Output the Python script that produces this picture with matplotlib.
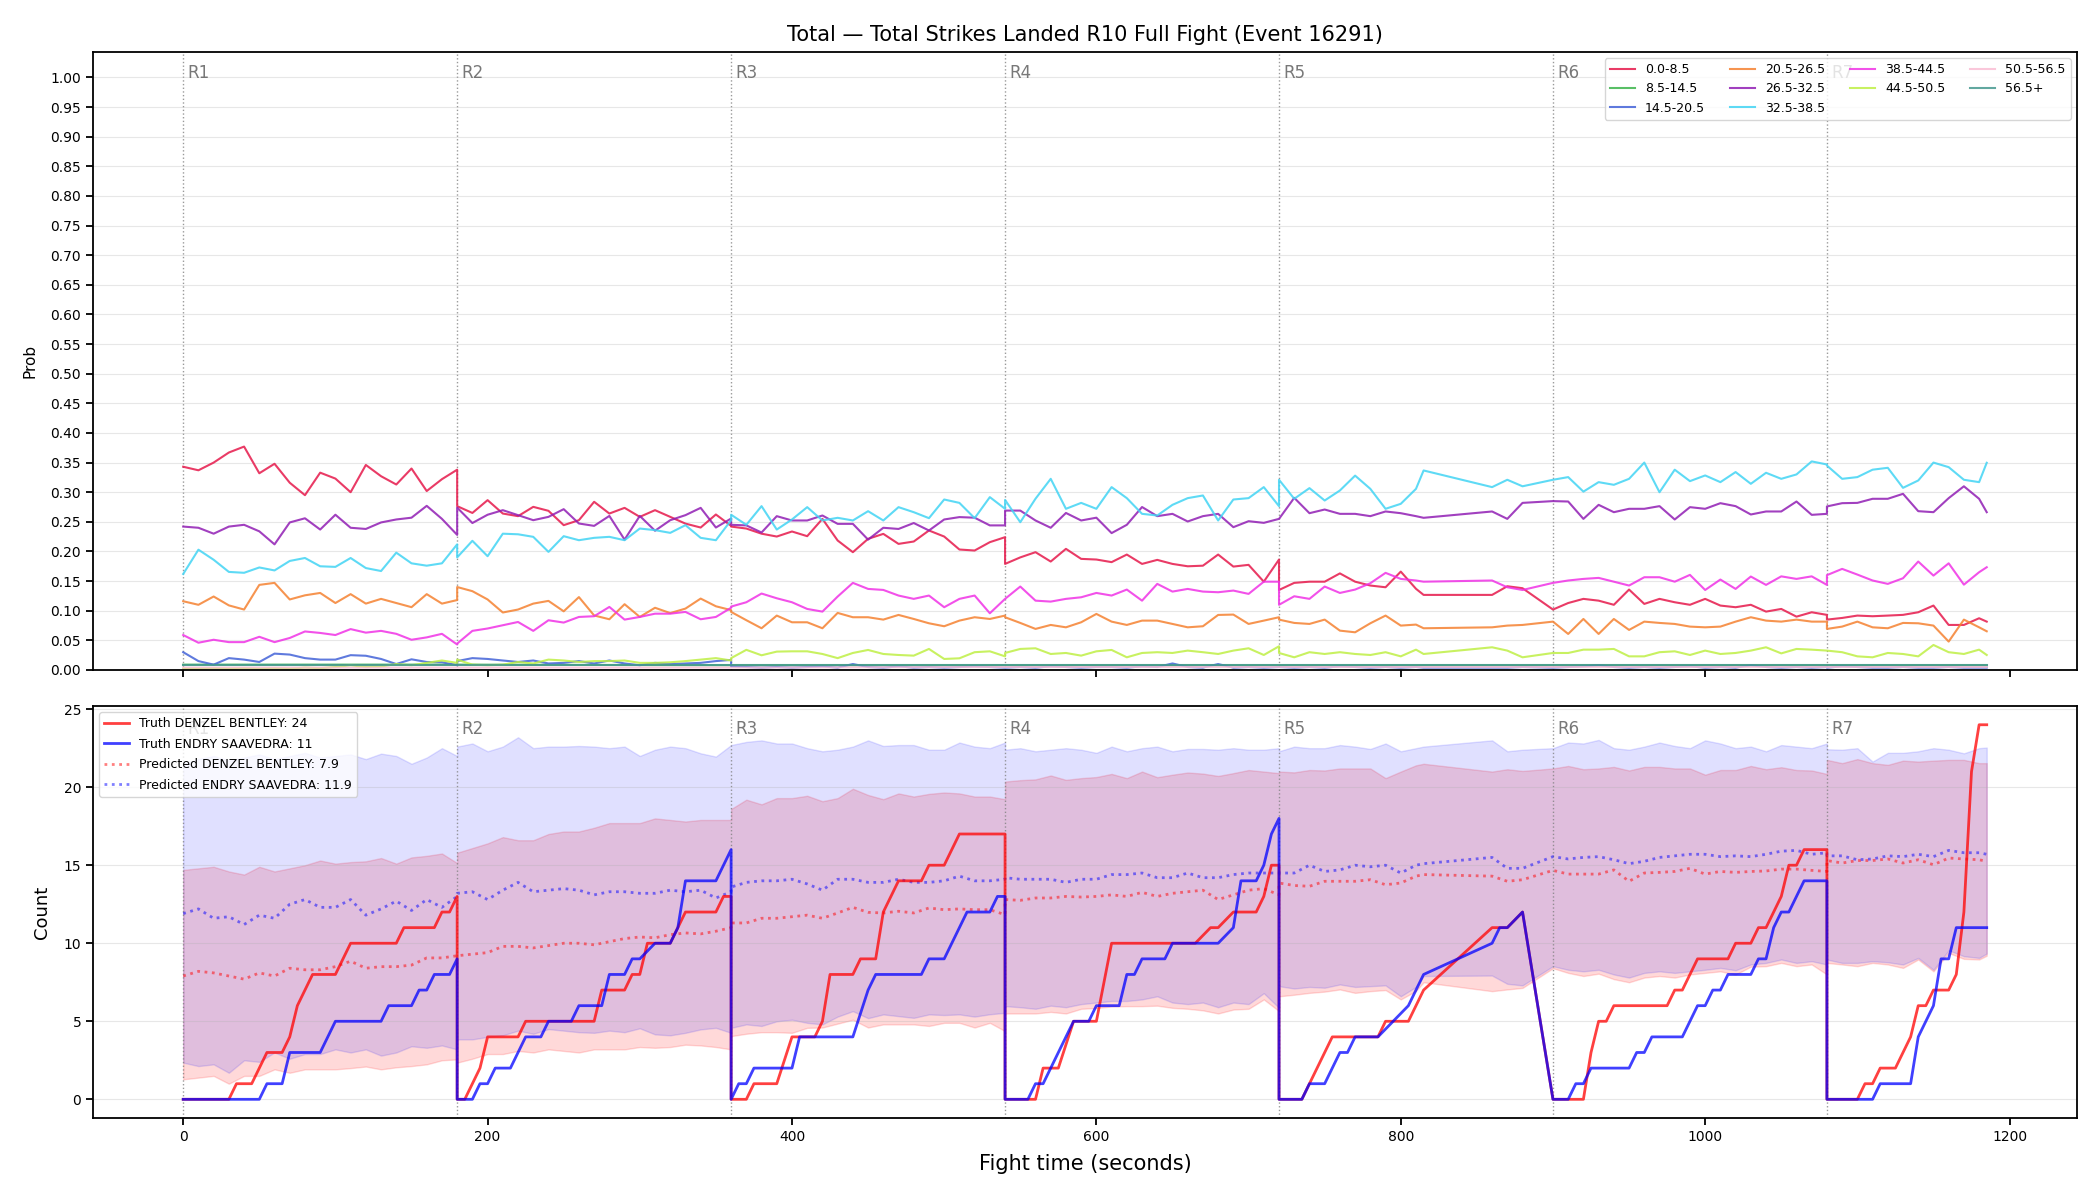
import numpy as np
import matplotlib
matplotlib.use("Agg")
import matplotlib.pyplot as plt
from matplotlib.ticker import FormatStrFormatter

# ---- sample times (seconds), one list per round; R5 feed has a gap ----
round_times = [
    list(range(0, 181, 10)),
    list(range(180, 361, 10)),
    list(range(360, 541, 10)),
    list(range(540, 721, 10)),
    list(range(720, 811, 10)) + [815, 860, 870, 880],
    list(range(900, 1081, 10)),
    list(range(1080, 1181, 10)) + [1185],
]
round_starts = [0, 180, 360, 540, 720, 900, 1080]

# ---- bin probabilities (top panel) ----
bin_labels = ["0.0-8.5", "8.5-14.5", "14.5-20.5", "20.5-26.5", "26.5-32.5",
              "32.5-38.5", "38.5-44.5", "44.5-50.5", "50.5-56.5", "56.5+"]
bin_colors = ["#e6194b", "#3cb44b", "#4363d8", "#f58231", "#911eb4",
              "#42d4f4", "#f032e6", "#bfef45", "#fabed4", "#469990"]

p_0_8 = [
    [.343, .337, .350, .367, .377, .332, .348, .316, .295, .333, .323, .300, .346, .327, .313, .340, .302, .322, .338],
    [.2765, .265, .2866, .264, .2596, .2753, .2686, .2444, .2528, .2838, .264, .2736, .2584, .2697, .2584, .247, .2404, .2624, .2432],
    [.242, .2387, .230, .2252, .2337, .2258, .255, .2185, .1988, .2213, .2297, .2128, .2168, .2354, .2252, .2033, .2016, .2157, .2241],
    [.179, .190, .1988, .183, .2044, .1875, .1864, .182, .1948, .179, .1858, .179, .175, .176, .1948, .1745, .1774, .149, .1864],
    [.135, .147, .149, .149, .163, .149, .1425, .1396, .166, .137, .1267, .1267, .1413, .138],
    [.102, .113, .120, .117, .110, .1357, .1115, .120, .1143, .110, .120, .1087, .1059, .110, .0985, .103, .090, .0974, .093],
    [.085, .0878, .0918, .0907, .0918, .093, .0974, .1087, .076, .076, .0873, .0816],
]
p_14_20 = [
    [.030, .015, .009, .020, .0175, .0135, .0276, .026, .020, .0175, .0175, .025, .024, .0186, .010, .018, .0135, .013, .008],
    [.015, .020, .0186, .016, .0135, .016, .011, .012, .015, .011, .016, .011, .008, .012, .010, .011, .012, .015, .017],
    [.006, .005, .004, .005, .004, .005, .006, .004, .010, .005, .004, .006, .004, .005, .004, .005, .006, .005, .004],
    [.004, .005, .004, .006, .005, .004, .005, .005, .004, .006, .005, .011, .005, .004, .010, .004, .005, .004, .005],
    [.005, .004, .005, .004, .006, .005, .004, .005, .004, .005, .004, .004, .004, .005],
    [.004, .005, .006, .008, .005, .004, .005, .004, .005, .006, .004, .005, .004, .008, .005, .004, .005, .004, .005],
    [.004, .006, .005, .004, .004, .005, .004, .004, .005, .004, .004, .004],
]
p_20_26 = [
    [.116, .110, .124, .109, .102, .1436, .147, .119, .126, .130, .113, .128, .112, .120, .113, .106, .128, .112, .118],
    [.140, .133, .119, .097, .102, .112, .1166, .099, .123, .092, .0856, .111, .0895, .105, .096, .1036, .1205, .1075, .101],
    [.098, .084, .0704, .0918, .0805, .0805, .0704, .0963, .089, .089, .085, .0929, .0861, .0788, .0738, .0833, .089, .0861, .0918],
    [.089, .0794, .0693, .076, .072, .0805, .0946, .0816, .076, .0833, .0833, .0777, .072, .0738, .0929, .0935, .0777, .0833, .089],
    [.085, .0794, .0777, .085, .0664, .0636, .0788, .0918, .0749, .0766, .0704, .072, .0749, .076],
    [.0816, .0608, .0861, .0608, .0861, .0676, .0816, .0794, .0777, .0732, .072, .0732, .0816, .089, .0833, .0816, .085, .0816, .0816],
    [.0693, .0732, .0816, .072, .0704, .0794, .0788, .0749, .0479, .085, .072, .0653],
]
p_26_32 = [
    [.242, .240, .230, .242, .245, .234, .212, .249, .256, .237, .262, .240, .238, .249, .254, .257, .277, .255, .228],
    [.274, .248, .262, .2697, .2613, .2528, .2584, .2714, .2472, .2432, .260, .220, .260, .235, .2528, .2613, .2736, .2404, .2556],
    [.245, .244, .232, .2596, .2523, .2523, .2607, .2466, .2466, .220, .240, .238, .248, .2354, .254, .258, .257, .244, .244],
    [.269, .269, .2523, .240, .265, .2523, .257, .231, .245, .275, .2596, .2635, .2506, .2596, .2635, .241, .2511, .2483, .255],
    [.255, .2905, .2646, .2708, .2635, .2635, .2596, .2675, .2646, .2596, .2568, .2675, .255, .282],
    [.285, .2843, .255, .2787, .2663, .272, .272, .2765, .254, .2748, .272, .2815, .2765, .2624, .2675, .2675, .2843, .2618, .2635],
    [.276, .2815, .282, .2889, .2889, .2973, .268, .2663, .290, .310, .2889, .2663],
]
p_32_38 = [
    [.162, .203, .186, .1655, .164, .173, .168, .184, .189, .175, .174, .189, .172, .167, .198, .180, .176, .180, .212],
    [.190, .218, .192, .230, .229, .2247, .1993, .2258, .219, .223, .2247, .219, .2387, .236, .2314, .2444, .223, .219, .2528],
    [.262, .245, .2765, .237, .254, .2748, .2523, .2568, .2523, .268, .2523, .2748, .2663, .2562, .2877, .282, .2562, .2917, .272],
    [.287, .2494, .289, .3226, .272, .282, .272, .3086, .290, .2635, .2607, .2787, .290, .2945, .2523, .2877, .290, .3086, .2765],
    [.321, .2889, .3069, .286, .3029, .328, .3057, .272, .2804, .3057, .3367, .3086, .321, .310],
    [.321, .3255, .301, .317, .3125, .3226, .350, .300, .338, .3187, .3283, .317, .334, .3142, .3328, .3226, .330, .352, .3468],
    [.345, .3226, .3255, .338, .3412, .3074, .3198, .350, .3423, .321, .317, .3497],
]
p_38_44 = [
    [.059, .046, .051, .047, .047, .056, .047, .054, .065, .0625, .059, .069, .063, .066, .061, .051, .055, .061, .043],
    [.0445, .066, .070, .0755, .081, .066, .0839, .080, .0895, .0907, .1064, .085, .0895, .095, .095, .098, .0856, .0895, .105],
    [.107, .1143, .129, .121, .1143, .103, .0985, .1239, .147, .1368, .1351, .1256, .120, .1256, .1059, .120, .1256, .0957, .120],
    [.120, .1408, .117, .1154, .120, .1227, .130, .1256, .1357, .117, .1453, .1323, .1368, .1323, .1312, .134, .1284, .149, .149],
    [.110, .1244, .120, .1408, .130, .1357, .1464, .1639, .1537, .151, .149, .151, .1396, .135],
    [.147, .151, .1537, .1554, .149, .1425, .1565, .1565, .149, .1605, .135, .1526, .1368, .1577, .1436, .158, .1537, .158, .1436],
    [.160, .1706, .161, .151, .1453, .1548, .183, .1593, .180, .144, .165, .1734],
]
p_44_50 = [
    [.002, .002, .003, .002, .003, .002, .003, .002, .004, .003, .005, .008, .005, .006, .010, .008, .012, .016, .012],
    [.0175, .009, .008, .009, .0135, .011, .0175, .016, .0135, .015, .015, .016, .012, .012, .013, .015, .0175, .020, .016],
    [.020, .034, .0248, .031, .0315, .0315, .027, .020, .0287, .0338, .027, .0253, .0242, .0355, .0186, .0197, .030, .0315, .023],
    [.0287, .0355, .0366, .027, .0287, .0242, .0315, .0338, .0214, .0287, .030, .0287, .0327, .030, .027, .0327, .0366, .0253, .040],
    [.0287, .0214, .030, .027, .030, .027, .0253, .030, .023, .0343, .027, .0383, .0327, .0214],
    [.0287, .0287, .0343, .0343, .0355, .023, .023, .030, .0315, .0253, .0327, .027, .0287, .0327, .0383, .028, .0355, .0343, .0327],
    [.0327, .030, .023, .0214, .0287, .027, .023, .0422, .030, .027, .0343, .0253],
]
# near-zero bins, sampled sparsely
t_sparse = [0, 180, 360, 540, 720, 880, 900, 1080, 1185]
p_8_14 = [.009, .009, .008, .008, .008, .008, .008, .008, .008]
p_50_56 = [.004, .004, .004, .005, .005, .005, .005, .005, .005]
p_56_up = [.008, .008, .008, .008, .008, .008, .008, .008, .008]

# ---- count panel: truth (breakpoints) ----
truth_a_t = [0, 30, 35, 45, 55, 65, 70, 75, 85, 100, 110, 140, 145, 165, 170, 175, 180,
             180, 185, 195, 200, 220, 225, 270, 275, 290, 295, 300, 305, 320, 330, 350, 355, 360,
             360, 370, 375, 390, 400, 415, 420, 425, 440, 445, 455, 460, 470, 485, 490, 500, 510, 540,
             540, 560, 565, 575, 585, 600, 610, 665, 675, 680, 690, 705, 710, 715, 720,
             720, 735, 755, 785, 790, 805, 815, 860, 870, 880,
             900, 920, 925, 930, 935, 940, 975, 980, 985, 995, 1015, 1020, 1030, 1035, 1040, 1050, 1055, 1060, 1065, 1080,
             1080, 1100, 1105, 1110, 1115, 1125, 1135, 1140, 1145, 1150, 1160, 1165, 1170, 1175, 1180, 1185]
truth_a_v = [0, 0, 1, 1, 3, 3, 4, 6, 8, 8, 10, 10, 11, 11, 12, 12, 13,
             0, 0, 2, 4, 4, 5, 5, 7, 7, 8, 8, 10, 10, 12, 12, 13, 13,
             0, 0, 1, 1, 4, 4, 5, 8, 8, 9, 9, 12, 14, 14, 15, 15, 17, 17,
             0, 0, 2, 2, 5, 5, 10, 10, 11, 11, 12, 12, 13, 15, 15,
             0, 0, 4, 4, 5, 5, 7, 11, 11, 12,
             0, 0, 3, 5, 5, 6, 6, 7, 7, 9, 9, 10, 10, 11, 11, 13, 15, 15, 16, 16,
             0, 0, 1, 1, 2, 2, 4, 6, 6, 7, 7, 8, 12, 21, 24, 24]
truth_b_t = [0, 50, 55, 65, 70, 90, 100, 130, 135, 150, 155, 160, 165, 175, 180,
             180, 190, 195, 200, 205, 215, 225, 235, 240, 255, 260, 275, 280, 290, 295, 300, 310, 320, 325, 330, 350, 360,
             360, 365, 370, 375, 400, 405, 440, 450, 455, 485, 490, 500, 510, 515, 530, 535, 540,
             540, 555, 560, 565, 580, 585, 595, 600, 615, 620, 625, 630, 645, 650, 680, 690, 695, 705, 710, 715, 720,
             720, 735, 740, 750, 755, 760, 765, 770, 785, 795, 805, 815, 860, 865, 870, 880,
             900, 910, 915, 920, 925, 950, 955, 960, 965, 985, 995, 1000, 1005, 1010, 1015, 1030, 1035, 1040, 1045, 1050, 1055, 1065, 1080,
             1080, 1110, 1115, 1135, 1140, 1150, 1155, 1160, 1165, 1185]
truth_b_v = [0, 0, 1, 1, 3, 3, 5, 5, 6, 6, 7, 7, 8, 8, 9,
             0, 0, 1, 1, 2, 2, 4, 4, 5, 5, 6, 6, 8, 8, 9, 9, 10, 10, 11, 14, 14, 16,
             0, 1, 1, 2, 2, 4, 4, 7, 8, 8, 9, 9, 11, 12, 12, 13, 13,
             0, 0, 1, 1, 4, 5, 5, 6, 6, 8, 8, 9, 9, 10, 10, 11, 14, 14, 15, 17, 18,
             0, 0, 1, 1, 2, 3, 3, 4, 4, 5, 6, 8, 10, 11, 11, 12,
             0, 0, 1, 1, 2, 2, 3, 3, 4, 4, 6, 6, 7, 7, 8, 8, 9, 9, 11, 12, 12, 14, 14,
             0, 0, 1, 1, 4, 6, 9, 9, 11, 11]

# ---- count panel: predicted mean and band (per round, on round_times) ----
pred_a = [
    [7.9, 8.2, 8.1, 7.9, 7.7, 8.1, 7.9, 8.4, 8.3, 8.3, 8.5, 8.85, 8.4, 8.5, 8.5, 8.6, 9.06, 9.06, 9.2],
    [9.2, 9.3, 9.4, 9.8, 9.8, 9.7, 9.85, 10.0, 10.0, 9.9, 10.1, 10.3, 10.4, 10.35, 10.55, 10.66, 10.6, 10.77, 11.0],
    [11.3, 11.3, 11.6, 11.6, 11.7, 11.8, 11.6, 11.94, 12.3, 11.98, 11.94, 12.05, 11.94, 12.26, 12.15, 12.2, 12.15, 12.15, 11.83],
    [12.8, 12.75, 12.9, 12.9, 13.0, 12.96, 13.0, 13.1, 13.0, 13.26, 13.0, 13.2, 13.3, 13.4, 12.8, 13.1, 13.4, 13.5, 13.1],
    [13.86, 13.7, 13.65, 13.97, 13.97, 13.97, 14.07, 13.75, 13.86, 14.3, 14.4, 14.3, 13.97, 14.07],
    [14.67, 14.43, 14.43, 14.43, 14.7, 13.97, 14.5, 14.54, 14.6, 14.8, 14.43, 14.6, 14.54, 14.6, 14.63, 14.75, 14.75, 14.67, 14.6],
    [15.3, 15.14, 15.3, 15.3, 15.4, 15.14, 15.35, 15.03, 15.46, 15.4, 15.35, 15.25],
]
pred_b = [
    [11.9, 12.2, 11.6, 11.7, 11.2, 11.8, 11.6, 12.5, 12.8, 12.3, 12.3, 12.8, 11.8, 12.2, 12.7, 12.1, 12.8, 12.3, 13.0],
    [13.2, 13.3, 12.8, 13.4, 13.9, 13.3, 13.4, 13.5, 13.4, 13.1, 13.3, 13.3, 13.2, 13.2, 13.4, 13.3, 13.4, 12.9, 13.3],
    [13.6, 13.9, 14.0, 14.0, 14.1, 13.8, 13.4, 14.1, 14.1, 13.9, 13.9, 14.1, 13.9, 13.9, 14.0, 14.3, 14.0, 14.0, 14.1],
    [14.2, 14.1, 14.1, 14.1, 13.9, 14.1, 14.1, 14.4, 14.4, 14.5, 14.2, 14.2, 14.5, 14.2, 14.2, 14.4, 14.5, 14.5, 14.5],
    [14.5, 14.5, 15.0, 14.6, 14.7, 15.0, 14.9, 15.0, 14.5, 15.0, 15.1, 15.5, 14.8, 14.8],
    [15.55, 15.4, 15.5, 15.55, 15.35, 15.1, 15.25, 15.5, 15.6, 15.7, 15.7, 15.55, 15.6, 15.55, 15.7, 15.9, 15.95, 15.7, 15.8],
    [15.6, 15.6, 15.35, 15.4, 15.6, 15.55, 15.7, 15.55, 15.95, 15.8, 15.8, 15.7],
]
hi_a = [
    [14.7, 14.8, 14.9, 14.6, 14.4, 14.9, 14.6, 14.8, 15.0, 15.3, 15.1, 15.2, 15.25, 15.46, 15.1, 15.5, 15.6, 15.75, 15.14],
    [15.8, 16.1, 16.4, 16.8, 16.6, 16.6, 17.0, 17.16, 17.16, 17.4, 17.7, 17.7, 17.7, 18.0, 17.9, 17.8, 17.9, 17.9, 17.9],
    [18.6, 19.2, 18.9, 19.3, 19.3, 19.45, 19.1, 19.3, 19.9, 19.5, 19.23, 19.6, 19.4, 19.57, 19.66, 19.6, 19.4, 19.4, 19.23],
    [20.36, 20.45, 20.5, 20.75, 20.47, 20.58, 20.65, 20.85, 20.58, 21.0, 20.64, 20.8, 20.94, 20.87, 20.72, 20.9, 21.1, 21.0, 20.9],
    [21.0, 20.95, 21.1, 21.07, 21.2, 21.2, 21.2, 20.58, 21.0, 21.4, 21.5, 21.0, 21.15, 21.04],
    [21.2, 21.36, 21.15, 21.2, 21.3, 21.07, 21.3, 21.3, 21.2, 21.2, 20.8, 21.1, 21.1, 21.36, 21.15, 21.28, 21.1, 21.07, 20.85],
    [21.75, 21.54, 21.8, 21.54, 21.43, 21.7, 21.64, 21.7, 21.75, 21.75, 21.54, 21.54],
]
lo_a = [
    [1.28, 1.39, 1.5, 1.0, 1.5, 1.5, 1.92, 1.7, 1.92, 1.92, 1.92, 2.0, 2.1, 1.92, 2.05, 2.13, 2.24, 2.5, 2.56],
    [2.35, 2.6, 2.9, 2.9, 3.1, 3.0, 3.2, 3.1, 3.0, 3.2, 3.2, 3.2, 3.35, 3.3, 3.35, 3.5, 3.45, 3.35, 3.2],
    [4.05, 4.2, 4.3, 4.3, 4.26, 4.58, 4.6, 4.85, 5.1, 4.6, 4.8, 4.8, 4.8, 4.7, 4.9, 4.9, 4.6, 4.9, 4.37],
    [5.5, 5.5, 5.5, 5.6, 5.5, 5.8, 5.85, 5.95, 5.97, 5.97, 6.0, 5.86, 5.8, 5.7, 5.5, 5.75, 5.8, 6.4, 5.65],
    [6.6, 6.7, 6.82, 6.9, 7.04, 6.82, 6.93, 7.0, 6.4, 6.95, 7.5, 6.93, 7.04, 7.14],
    [8.4, 8.1, 7.9, 8.05, 7.7, 7.5, 7.8, 7.9, 7.8, 8.0, 8.1, 8.2, 8.0, 8.5, 8.53, 8.74, 8.53, 8.64, 8.0],
    [8.74, 8.64, 8.53, 8.74, 8.64, 8.42, 8.96, 8.2, 9.38, 9.0, 8.96, 9.2],
]
hi_b = [
    [21.5, 21.8, 22.0, 21.7, 21.9, 22.1, 21.8, 22.0, 22.2, 21.9, 22.0, 22.1, 21.8, 22.15, 22.0, 21.5, 21.9, 22.5, 22.0],
    [22.6, 22.8, 22.3, 22.6, 23.2, 22.5, 22.6, 22.6, 22.64, 22.6, 22.5, 22.6, 22.0, 22.4, 22.6, 22.5, 22.17, 21.96, 22.7],
    [22.7, 22.9, 23.0, 22.8, 22.8, 22.5, 22.3, 22.4, 22.6, 23.0, 22.64, 22.7, 22.7, 22.4, 22.4, 22.86, 22.6, 22.5, 22.86],
    [22.4, 22.5, 22.3, 22.4, 22.5, 22.4, 22.2, 22.6, 22.3, 22.5, 22.6, 22.3, 22.45, 22.45, 22.4, 22.5, 22.4, 22.4, 22.5],
    [22.3, 22.6, 22.5, 22.5, 22.7, 22.6, 22.45, 22.8, 22.3, 22.5, 22.6, 23.0, 22.3, 22.4],
    [22.5, 22.86, 22.8, 23.03, 22.5, 22.4, 22.6, 22.86, 22.64, 22.5, 23.0, 22.8, 22.5, 22.6, 22.3, 22.7, 22.6, 22.5, 22.8],
    [22.43, 22.4, 22.5, 21.64, 22.2, 22.2, 22.3, 22.5, 22.4, 22.17, 22.5, 22.54],
]
lo_b = [
    [2.35, 2.13, 2.24, 1.7, 2.5, 2.4, 3.0, 2.6, 2.9, 2.9, 3.2, 3.0, 3.2, 2.8, 3.0, 3.4, 3.3, 3.45, 3.2],
    [3.84, 3.84, 4.0, 4.1, 4.4, 4.2, 4.5, 4.4, 4.3, 4.26, 4.4, 4.3, 4.55, 4.16, 4.1, 4.26, 4.48, 4.58, 4.26],
    [4.58, 4.8, 4.7, 5.0, 5.1, 4.9, 4.8, 5.3, 5.65, 5.2, 5.44, 5.33, 5.22, 5.44, 5.4, 5.44, 5.3, 5.45, 5.54],
    [5.97, 5.9, 5.8, 6.0, 5.9, 6.1, 6.2, 6.3, 6.3, 6.4, 6.6, 6.2, 6.1, 6.2, 5.9, 6.2, 6.1, 6.8, 5.86],
    [7.25, 7.1, 7.2, 7.15, 7.36, 7.2, 7.25, 7.3, 6.6, 7.2, 7.9, 7.93, 7.4, 7.3],
    [8.53, 8.3, 8.2, 8.3, 8.0, 7.8, 8.1, 8.2, 8.1, 8.2, 8.3, 8.42, 8.27, 8.64, 8.74, 8.96, 8.74, 8.85, 8.64],
    [8.96, 8.74, 8.74, 8.85, 8.78, 8.64, 9.06, 8.3, 9.55, 9.17, 9.06, 9.34],
]

fighter_a = "DENZEL BENTLEY"
fighter_b = "ENDRY SAAVEDRA"

t = np.concatenate([np.array(r, dtype=float) for r in round_times])


def flat(rounds):
    return np.concatenate([np.array(r, dtype=float) for r in rounds])


plt.rcParams["axes.linewidth"] = 1.3
plt.rcParams["xtick.major.width"] = 1.3
plt.rcParams["ytick.major.width"] = 1.3
plt.rcParams["xtick.major.size"] = 5
plt.rcParams["ytick.major.size"] = 5

fig, (ax1, ax2) = plt.subplots(2, 1, figsize=(21, 12), dpi=100, sharex=True,
                               gridspec_kw={"height_ratios": [1.5, 1]})
fig.subplots_adjust(left=0.0443, right=0.989, top=0.9567, bottom=0.0683, hspace=0.07)

# ---- top: bin probabilities ----
series = {
    "0.0-8.5": (t, flat(p_0_8)),
    "8.5-14.5": (t_sparse, p_8_14),
    "14.5-20.5": (t, flat(p_14_20)),
    "20.5-26.5": (t, flat(p_20_26)),
    "26.5-32.5": (t, flat(p_26_32)),
    "32.5-38.5": (t, flat(p_32_38)),
    "38.5-44.5": (t, flat(p_38_44)),
    "44.5-50.5": (t, flat(p_44_50)),
    "50.5-56.5": (t_sparse, p_50_56),
    "56.5+": (t_sparse, p_56_up),
}
for lab, col in zip(bin_labels, bin_colors):
    xs, ys = series[lab]
    ax1.plot(xs, ys, color=col, lw=1.5, alpha=0.85, label=lab)

ax1.set_ylim(0, 1.043)
ax1.set_yticks(np.arange(0, 1.001, 0.05))
ax1.yaxis.set_major_formatter(FormatStrFormatter("%.2f"))
ax1.set_ylabel("Prob", fontsize=11, labelpad=9)
ax1.grid(True, axis="y", alpha=0.3)
ax1.set_title("Total \u2014 Total Strikes Landed R10 Full Fight (Event 16291)", fontsize=15, pad=8)
ax1.legend(loc="upper right", ncol=4, fontsize=9)

# ---- bottom: counts ----
ta = np.array(truth_a_t, dtype=float)
tb = np.array(truth_b_t, dtype=float)
ax2.fill_between(t, flat(lo_a), flat(hi_a), color="red", alpha=0.15)
ax2.fill_between(t, flat(lo_b), flat(hi_b), color="blue", alpha=0.12)
ax2.plot(ta, truth_a_v, color="red", lw=2, alpha=0.75, zorder=4,
         label=f"Truth {fighter_a}: {truth_a_v[-1]}")
ax2.plot(tb, truth_b_v, color="blue", lw=2, alpha=0.75, zorder=4,
         label=f"Truth {fighter_b}: {truth_b_v[-1]}")
pa = flat(pred_a)
pb = flat(pred_b)
ax2.plot(t, pa, color="red", ls=":", lw=2, alpha=0.5, zorder=3,
         label=f"Predicted {fighter_a}: {pa[0]:.1f}")
ax2.plot(t, pb, color="blue", ls=":", lw=2, alpha=0.5, zorder=3,
         label=f"Predicted {fighter_b}: {pb[0]:.1f}")
ax2.set_ylim(-1.2, 25.2)
ax2.set_yticks([0, 5, 10, 15, 20, 25])
ax2.set_ylabel("Count", fontsize=13, labelpad=9)
ax2.set_xlabel("Fight time (seconds)", fontsize=15, labelpad=7)
ax2.grid(True, axis="y", alpha=0.3)
ax2.legend(loc="upper left", fontsize=9, labelspacing=0.6)

# round markers
for i, rs in enumerate(round_starts):
    for ax, ytxt in ((ax1, 1.022), (ax2, 24.3)):
        ax.axvline(rs, color="gray", ls=":", lw=1, alpha=0.8, zorder=1)
        ax.text(rs + 3, ytxt, f"R{i + 1}", color="dimgray", fontsize=12,
                va="top", ha="left", alpha=0.9)

ax1.tick_params(labelbottom=False)
fig.savefig("out.png", dpi=100)
